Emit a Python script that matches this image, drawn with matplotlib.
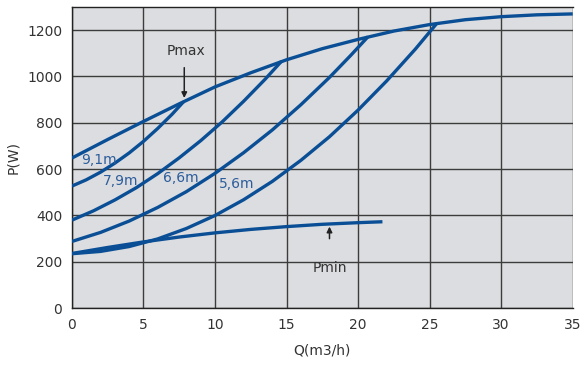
import matplotlib
matplotlib.use("Agg")
import matplotlib.pyplot as plt

# Pump power curves
q_pmax = [0, 2.5, 5, 7.5, 10, 12.5, 15, 17.5, 20, 22.5, 25, 27.5, 30, 32.5, 35]
p_pmax = [648, 728, 806, 882, 955, 1016, 1072, 1120, 1160, 1196, 1224, 1245, 1258, 1266, 1270]

q_91 = [0, 1, 2, 3, 4, 5, 6, 7, 7.8]
p_91 = [527, 554, 587, 626, 670, 720, 776, 837, 891]

q_79 = [0, 1.5, 3, 4.5, 6, 7.5, 9, 10.5, 12, 13.5, 14.65]
p_79 = [380, 420, 467, 520, 581, 649, 723, 804, 893, 988, 1066]

q_66 = [0, 2, 4, 6, 8, 10, 12, 14, 16, 18, 19.5, 20.7]
p_66 = [288, 327, 376, 435, 503, 582, 671, 769, 878, 996, 1092, 1172]

q_56 = [0, 2, 4, 6, 8, 10, 12, 14, 16, 18, 20, 22, 24, 25.5]
p_56 = [235, 245, 266, 299, 344, 400, 468, 547, 638, 740, 855, 981, 1118, 1229]

q_pmin = [0, 2.5, 5, 7.5, 10, 12.5, 15, 17.5, 20, 21.7]
p_pmin = [236, 262, 286, 307, 325, 340, 352, 362, 369, 373]

head_labels = ["9,1m", "7,9m", "6,6m", "5,6m"]
label_q = [1.9, 3.4, 7.6, 11.5]
label_p = [639, 550, 561, 535]

x_ticks = [0, 5, 10, 15, 20, 25, 30, 35]
y_ticks = [0, 200, 400, 600, 800, 1000, 1200]

line_color = "#0a4f96"
text_color = "#2b5c9c"
grid_color = "#3c3c3c"

fig = plt.figure(figsize=(5.85, 3.66), dpi=100)
ax = fig.add_axes([0.123, 0.158, 0.856, 0.823])
ax.set_facecolor("#dcdde0")

for q, p in [(q_pmax, p_pmax), (q_91, p_91), (q_79, p_79),
             (q_66, p_66), (q_56, p_56), (q_pmin, p_pmin)]:
    ax.plot(q, p, color=line_color, lw=2.4, solid_capstyle="butt", zorder=3)

for txt, q, p in zip(head_labels, label_q, label_p):
    ax.text(q, p, txt, color=text_color, fontsize=10, ha="center", va="center", zorder=4)

# Pmax / Pmin annotations
ax.annotate("", xy=(7.85, 895), xytext=(7.85, 1050),
            arrowprops=dict(arrowstyle="-|>", color="#222222", lw=1.1, mutation_scale=8))
ax.text(8.0, 1111, "Pmax", fontsize=10, color="#333333", ha="center", va="center")
ax.annotate("", xy=(18.0, 364), xytext=(18.0, 288),
            arrowprops=dict(arrowstyle="-|>", color="#222222", lw=1.1, mutation_scale=8))
ax.text(18.0, 174, "Pmin", fontsize=10, color="#333333", ha="center", va="center")

ax.set_xlim(0, 35)
ax.set_ylim(0, 1300)
ax.set_xticks(x_ticks)
ax.set_yticks(y_ticks)
ax.grid(True, color=grid_color, lw=1.0, zorder=1)
ax.set_axisbelow(True)
ax.tick_params(length=0, pad=7, labelsize=10, labelcolor="#333333")
for s in ax.spines.values():
    s.set_color("#222222")
    s.set_linewidth(1.0)
ax.spines["right"].set_visible(False)

ax.set_xlabel("Q(m3/h)", fontsize=10, color="#333333", labelpad=8)
ax.set_ylabel("P(W)", fontsize=10, color="#333333", labelpad=5)

fig.savefig("out.png", dpi=100)
